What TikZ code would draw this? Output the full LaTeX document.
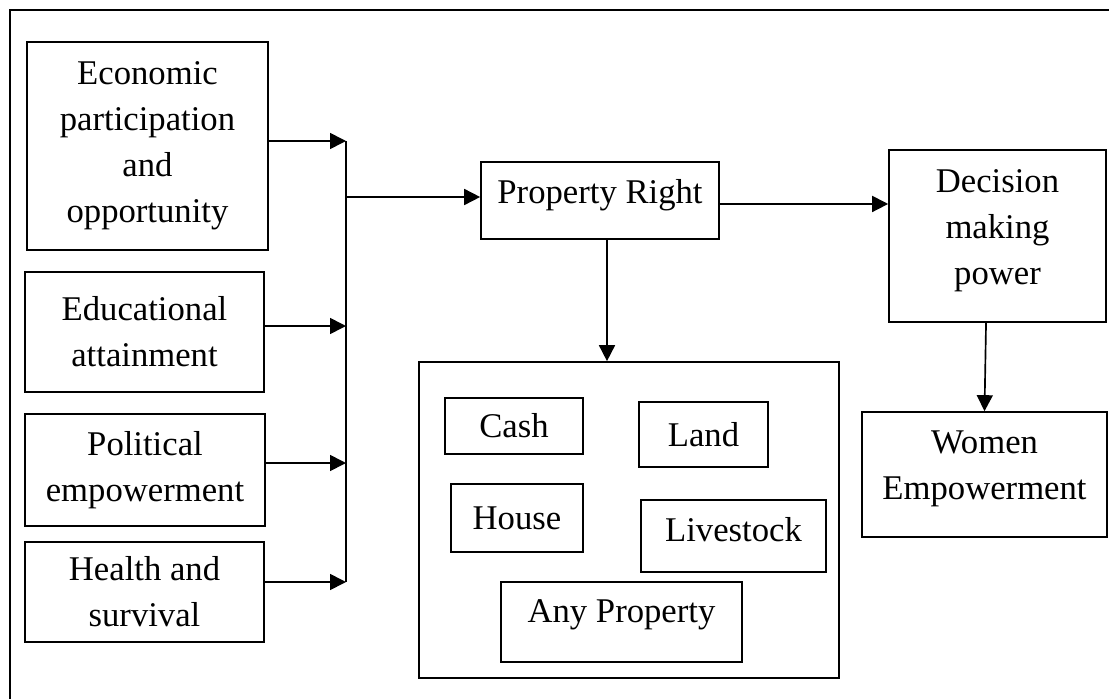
\documentclass[tikz,border=0pt]{standalone}
\usepackage{fontspec}
\setmainfont{Liberation Serif}
\usetikzlibrary{arrows.meta}
\begin{document}
\begin{tikzpicture}[x=0.75pt,y=-0.75pt,line width=1.25pt,
  bx/.style 2 args={draw,inner sep=0pt,align=center,
    minimum width=#1*0.75pt,minimum height=#2*0.75pt,
    font={\fontsize{26}{34.5}\selectfont}},
  arr/.style={-{Triangle[length=12pt,width=12pt]}},
  frame/.style={line width=1.5pt}]
\useasboundingbox (0,0) rectangle (1109,699);
% outer frame (only top and left edges visible)
\draw[frame] (10,699) -- (10,10) -- (1109,10);

% left boxes
\node[bx={241}{208}] (econ) at (147.5,146) {Economic\\participation\\and\\opportunity};
\node[bx={239}{120}] (edu) at (144.5,332) {Educational\\attainment};
\node[bx={240}{112}] (pol) at (145,470) {Political\\empowerment};
\node[bx={239}{100}] (hea) at (144.5,592) {Health and\\survival};

% bus
\coordinate (b1) at (346,141);
\coordinate (b2) at (346,326);
\coordinate (b3) at (346,463);
\coordinate (b4) at (346,582);
\coordinate (bp) at (346,197);
\draw (b1) -- (b4);
\draw[arr] (econ.east |- b1) -- (b1);
\draw[arr] (edu.east |- b2) -- (b2);
\draw[arr] (pol.east |- b3) -- (b3);
\draw[arr] (hea.east |- b4) -- (b4);

% property right
\node[bx={238}{77},text depth=13pt] (pr) at (600,200.5) {Property Right};
\draw[arr] (bp) -- (pr.west |- bp);

% decision
\node[bx={217}{172},text depth=14pt] (dec) at (997.5,236) {Decision\\making\\power};
\draw[arr] ([yshift=-2.6pt]pr.east) -- ([yshift=-2.6pt]pr.east -| dec.west);

% women
\node[bx={245}{125},text depth=14pt] (wom) at (984.5,474.5) {Women\\Empowerment};
\draw[arr] ([xshift=-8.6pt]dec.south) -- (wom.north);

% property box
\node[bx={420}{316}] (big) at (629,520) {};
\draw[arr] ([xshift=5.25pt]pr.south) -- ([xshift=5.25pt]pr.south |- big.north);

\node[bx={138}{56}] (cash) at (514,426) {Cash};
\node[bx={129}{65}] (land) at (703.5,434.5) {Land};
\node[bx={132}{68}] (house) at (517,518) {House};
\node[bx={185}{72},text depth=10pt] (live) at (733.5,536) {Livestock};
\node[bx={241}{80},text depth=16pt] (any) at (621.5,622) {Any Property};
\end{tikzpicture}
\end{document}
